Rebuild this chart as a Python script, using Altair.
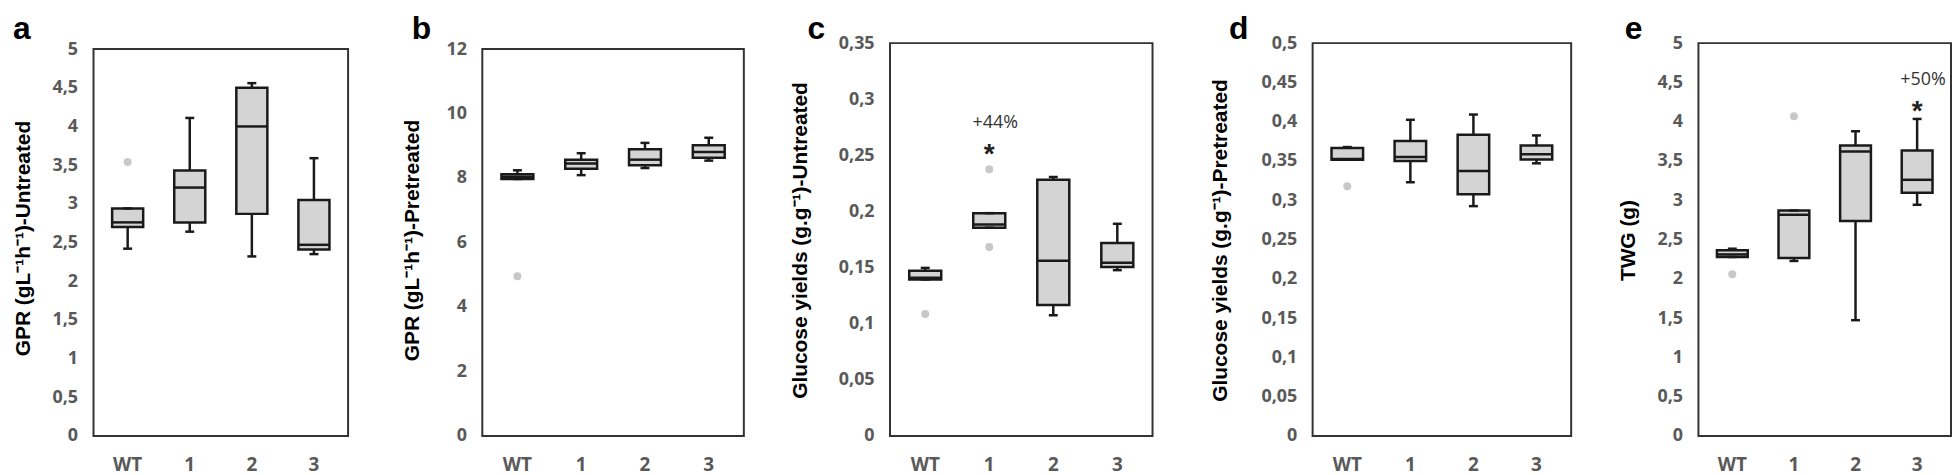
import altair as alt
import pandas as pd

GROUPS = ["WT", "1", "2", "3"]

# Panel a: GPR untreated
A_LO = [2.42, 2.64, 2.32, 2.35]
A_Q1 = [2.70, 2.76, 2.87, 2.41]
A_MED = [2.76, 3.21, 4.00, 2.47]
A_Q3 = [2.94, 3.43, 4.50, 3.05]
A_HI = [2.94, 4.11, 4.56, 3.59]
A_OUT_G = ["WT"]
A_OUT_V = [3.54]
A_TICKS = [0, 0.5, 1, 1.5, 2, 2.5, 3, 3.5, 4, 4.5, 5]

# Panel b: GPR pretreated
B_LO = [7.97, 8.09, 8.31, 8.54]
B_Q1 = [7.97, 8.29, 8.40, 8.63]
B_MED = [8.04, 8.45, 8.57, 8.81]
B_Q3 = [8.12, 8.57, 8.89, 9.02]
B_HI = [8.24, 8.77, 9.09, 9.25]
B_OUT_G = ["WT"]
B_OUT_V = [4.95]
B_TICKS = [0, 2, 4, 6, 8, 10, 12]

# Panel c: glucose yields untreated
C_LO = [0.1394, 0.1855, 0.1075, 0.1477]
C_Q1 = [0.1394, 0.1855, 0.1167, 0.1506]
C_MED = [0.1410, 0.1884, 0.1560, 0.1542]
C_Q3 = [0.1471, 0.1985, 0.2283, 0.1719]
C_HI = [0.1497, 0.1985, 0.2307, 0.1890]
C_OUT_G = ["WT", "1", "1"]
C_OUT_V = [0.1087, 0.2377, 0.1683]
C_TICKS = [0, 0.05, 0.1, 0.15, 0.2, 0.25, 0.3, 0.35]
C_ANN_G = ["1"]
C_STAR_V = [0.2555]
C_PCT_V = [0.279]
C_PCT_T = ["+44%"]

# Panel d: glucose yields pretreated
D_LO = [0.3516, 0.3229, 0.2925, 0.3470]
D_Q1 = [0.3516, 0.3500, 0.3077, 0.3520]
D_MED = [0.3525, 0.3550, 0.3373, 0.3584]
D_Q3 = [0.3664, 0.3753, 0.3834, 0.3698]
D_HI = [0.3677, 0.4024, 0.4091, 0.3825]
D_OUT_G = ["WT"]
D_OUT_V = [0.3178]
D_TICKS = [0, 0.05, 0.1, 0.15, 0.2, 0.25, 0.3, 0.35, 0.4, 0.45, 0.5]

# Panel e: TWG
E_LO = [2.278, 2.227, 1.473, 2.942]
E_Q1 = [2.278, 2.265, 2.735, 3.095]
E_MED = [2.310, 2.815, 3.620, 3.260]
E_Q3 = [2.362, 2.870, 3.696, 3.632]
E_HI = [2.383, 2.870, 3.878, 4.035]
E_OUT_G = ["WT", "1"]
E_OUT_V = [2.058, 4.069]
E_TICKS = [0, 0.5, 1, 1.5, 2, 2.5, 3, 3.5, 4, 4.5, 5]
E_ANN_G = ["3"]
E_STAR_V = [4.20]
E_PCT_V = [4.53]
E_PCT_T = ["+50%"]

H = 395
LINE = "#1a1a1a"
FILL = "#d4d4d4"
OUTC = "#c8c8c8"
LABEL_COLOR = "#595959"
SW = 2.5


def panel(letter, title, lo, q1, med, q3, hi, out_g, out_v, ymax, ticks,
          width, frame_top, left_ext, title_x, title_y, letter_x,
          ann_g=None, star_v=None, pct_v=None, pct_t=None):
    df = pd.DataFrame({"g": GROUPS, "lo": lo, "q1": q1, "med": med, "q3": q3, "hi": hi})
    outs = pd.DataFrame({"g": out_g, "v": out_v})
    one = pd.DataFrame({"k": [0]})
    bw = width / 4.1 * 0.5

    xenc = alt.X(
        "g:N", sort=GROUPS,
        scale=alt.Scale(domain=GROUPS, paddingInner=0.5, paddingOuter=0.3),
        axis=alt.Axis(title=None, labelAngle=0, labelFontSize=19, labelFont="Open Sans",
                      labelFontWeight="bold", labelColor=LABEL_COLOR, labelPadding=20,
                      ticks=False, tickSize=0, domain=False, grid=False),
    )
    yscale = alt.Scale(domain=[0, ymax], range=[H, frame_top], nice=False, zero=True)
    yaxis = alt.Axis(
        title=title, values=ticks,
        labelExpr="replace(format(datum.value, '.2~f'), '.', ',')",
        labelFontSize=18, labelFont="Open Sans", labelFontWeight="bold",
        labelColor=LABEL_COLOR, labelPadding=16, labelFlush=False, labelOverlap=False,
        ticks=False, tickSize=0, domain=False, grid=False,
        titleFont="Liberation Sans", titleFontSize=21, titleFontWeight="bold",
        titleColor="#000000", titleX=title_x, titleY=title_y,
        titleBaseline="middle", titleAngle=270, titleAlign="center",
    )

    def Y(field):
        return alt.Y(field, type="quantitative", scale=yscale, axis=yaxis)

    base = alt.Chart(df)
    whisk = base.mark_rule(color=LINE, strokeWidth=SW, opacity=1).encode(x=xenc, y=Y("lo"), y2="hi")
    box = base.mark_bar(fill=FILL, stroke=LINE, strokeWidth=SW, opacity=1).encode(
        x=xenc, y=Y("q1"), y2="q3")
    medl = base.mark_tick(color=LINE, thickness=SW, size=bw, opacity=1).encode(x=xenc, y=Y("med"))
    caplo = base.mark_tick(color=LINE, thickness=SW, size=9, opacity=1).encode(x=xenc, y=Y("lo"))
    caphi = base.mark_tick(color=LINE, thickness=SW, size=9, opacity=1).encode(x=xenc, y=Y("hi"))
    pts = alt.Chart(outs).mark_circle(color=OUTC, opacity=1, size=64).encode(x=xenc, y=Y("v"))

    frame = alt.Chart(one).mark_rect(fillOpacity=0, stroke="#333333", strokeWidth=2).encode(
        x=alt.value(0), x2=alt.value(width), y=alt.value(frame_top), y2=alt.value(H))
    spacer = alt.Chart(one).mark_rule(opacity=0).encode(
        x=alt.value(-left_ext), y=alt.value(0), y2=alt.value(10))
    lab = alt.Chart(one).mark_text(align="left", baseline="alphabetic", fontSize=32,
                                   font="Liberation Sans", fontWeight="bold", color="#000000").encode(
        x=alt.value(letter_x), y=alt.value(-4), text=alt.value(letter))

    layers = [frame, spacer, lab, whisk, box, medl, caplo, caphi, pts]
    if ann_g is not None:
        ann = pd.DataFrame({"g": ann_g, "s": star_v, "p": pct_v, "t": pct_t})
        star = alt.Chart(ann).mark_text(text="*", fontSize=28, font="Liberation Sans",
                                        fontWeight="bold", color="#222222",
                                        baseline="middle", dy=6).encode(x=xenc, y=Y("s"))
        pct = alt.Chart(ann).mark_text(fontSize=18, font="Open Sans", color="#333333",
                                       baseline="middle", dx=6).encode(x=xenc, y=Y("p"), text="t:N")
        layers += [star, pct]
    return alt.layer(*layers).properties(width=width, height=H)


pa = panel("a", "GPR (gL⁻¹h⁻¹)-Untreated", A_LO, A_Q1, A_MED, A_Q3, A_HI, A_OUT_G, A_OUT_V,
           5, A_TICKS, 256, 6, 86, -70, 196, -81)
pb = panel("b", "GPR (gL⁻¹h⁻¹)-Pretreated", B_LO, B_Q1, B_MED, B_Q3, B_HI, B_OUT_G, B_OUT_V,
           12, B_TICKS, 263, 6, 134, -70, 198, -71)
pc = panel("c", "Glucose yields (g.g⁻¹)-Untreated", C_LO, C_Q1, C_MED, C_Q3, C_HI, C_OUT_G, C_OUT_V,
           0.35, C_TICKS, 264, 0, 146, -90, 198, -83, C_ANN_G, C_STAR_V, C_PCT_V, C_PCT_T)
pd_ = panel("d", "Glucose yields (g.g⁻¹)-Pretreated", D_LO, D_Q1, D_MED, D_Q3, D_HI, D_OUT_G, D_OUT_V,
            0.5, D_TICKS, 260, 0, 160, -93, 198, -84)
pe = panel("e", "TWG (g)", E_LO, E_Q1, E_MED, E_Q3, E_HI, E_OUT_G, E_OUT_V,
           5, E_TICKS, 254, 0, 127, -70, 198, -74, E_ANN_G, E_STAR_V, E_PCT_V, E_PCT_T)

chart = alt.hconcat(pa, pb, pc, pd_, pe, spacing=0).properties(
    padding={"top": 4, "left": 0, "right": 0, "bottom": 0}
).configure_view(strokeWidth=0).configure_concat(spacing=0)

chart.save("out.html", embed_options={"renderer": "svg", "actions": False})
